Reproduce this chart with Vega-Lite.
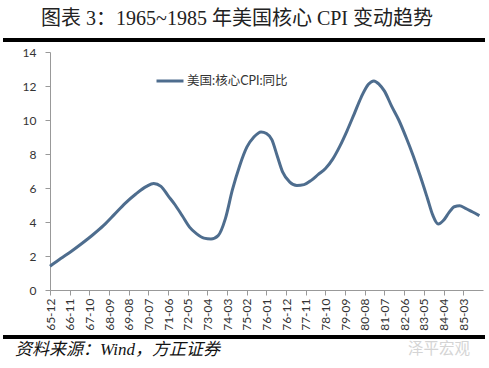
{
  "$schema": "https://vega.github.io/schema/vega-lite/v6.json",
  "padding": {"left": 3, "top": 9, "right": 2, "bottom": 0},
  "background": "#ffffff",
  "config": {"view": {"stroke": null}},
  "spacing": 4,
  "vconcat": [
    {
      "width": 482, "height": 4,
      "view": {"fill": "#000000", "stroke": null},
      "data": {"values": [{"label": "图表 3：1965~1985 年美国核心 CPI 变动趋势", "pos": 0.079}]},
      "mark": {"type": "text", "align": "left", "baseline": "middle", "dy": -21, "font": "Liberation Serif, Noto Sans CJK SC", "fontSize": 20, "color": "#222222"},
      "encoding": {
        "x": {"field": "pos", "type": "quantitative", "scale": {"domain": [0, 1]}, "axis": null},
        "text": {"field": "label"}
      }
    },
    {
      "width": 480, "height": 238,
      "data": {"values": [
        {"date": "1965-12-01", "v": 1.4},
        {"date": "1966-06-01", "v": 1.85},
        {"date": "1966-12-01", "v": 2.28},
        {"date": "1967-06-01", "v": 2.75},
        {"date": "1967-12-01", "v": 3.25},
        {"date": "1968-06-01", "v": 3.8},
        {"date": "1968-12-01", "v": 4.45},
        {"date": "1969-06-01", "v": 5.1},
        {"date": "1969-12-01", "v": 5.65},
        {"date": "1970-06-01", "v": 6.1},
        {"date": "1970-10-01", "v": 6.27},
        {"date": "1971-02-01", "v": 6.1},
        {"date": "1971-06-01", "v": 5.55},
        {"date": "1971-10-01", "v": 5.0},
        {"date": "1972-02-01", "v": 4.35},
        {"date": "1972-06-01", "v": 3.7},
        {"date": "1972-10-01", "v": 3.3},
        {"date": "1973-02-01", "v": 3.05},
        {"date": "1973-06-01", "v": 3.0},
        {"date": "1973-10-01", "v": 3.2},
        {"date": "1974-02-01", "v": 4.2},
        {"date": "1974-06-01", "v": 5.9},
        {"date": "1974-10-01", "v": 7.3},
        {"date": "1975-02-01", "v": 8.4},
        {"date": "1975-06-01", "v": 9.0},
        {"date": "1975-10-01", "v": 9.3},
        {"date": "1976-01-01", "v": 9.2},
        {"date": "1976-04-01", "v": 8.85},
        {"date": "1976-07-01", "v": 7.9},
        {"date": "1976-10-01", "v": 6.95},
        {"date": "1977-02-01", "v": 6.35},
        {"date": "1977-06-01", "v": 6.15},
        {"date": "1977-10-01", "v": 6.2},
        {"date": "1978-02-01", "v": 6.45},
        {"date": "1978-06-01", "v": 6.8},
        {"date": "1978-10-01", "v": 7.15},
        {"date": "1979-02-01", "v": 7.7},
        {"date": "1979-06-01", "v": 8.45},
        {"date": "1979-10-01", "v": 9.35},
        {"date": "1980-02-01", "v": 10.35},
        {"date": "1980-06-01", "v": 11.35},
        {"date": "1980-10-01", "v": 12.1},
        {"date": "1981-01-01", "v": 12.3},
        {"date": "1981-04-01", "v": 12.1},
        {"date": "1981-07-01", "v": 11.7},
        {"date": "1981-11-01", "v": 10.8},
        {"date": "1982-03-01", "v": 10.0},
        {"date": "1982-07-01", "v": 9.0},
        {"date": "1982-11-01", "v": 7.9},
        {"date": "1983-03-01", "v": 6.7},
        {"date": "1983-07-01", "v": 5.4},
        {"date": "1983-10-01", "v": 4.4},
        {"date": "1984-01-01", "v": 3.88},
        {"date": "1984-04-01", "v": 4.1},
        {"date": "1984-07-01", "v": 4.55},
        {"date": "1984-10-01", "v": 4.9},
        {"date": "1985-01-01", "v": 4.95},
        {"date": "1985-04-01", "v": 4.82},
        {"date": "1985-08-01", "v": 4.6},
        {"date": "1985-12-01", "v": 4.37}
      ]},
      "mark": {"type": "line", "strokeWidth": 3, "interpolate": "monotone"},
      "encoding": {
        "x": {
          "field": "date", "type": "temporal",
          "scale": {"type": "utc", "range": [47, 480], "domain": [{"year": 1965, "month": 12, "date": 1, "utc": true}, {"year": 1986, "month": 2, "date": 1, "utc": true}]},
          "axis": {
            "title": null, "format": "%y-%m", "labelAngle": -90, "labelOverlap": false, "labelFlush": false,
            "grid": false, "tickSize": 5, "labelPadding": 3, "domainColor": "#999999", "tickColor": "#999999",
            "labelFont": "Lato", "labelFontSize": 12, "labelColor": "#333333",
            "values": [
              {"year": 1965, "month": 12, "date": 1, "utc": true},
              {"year": 1966, "month": 11, "date": 1, "utc": true},
              {"year": 1967, "month": 10, "date": 1, "utc": true},
              {"year": 1968, "month": 9, "date": 1, "utc": true},
              {"year": 1969, "month": 8, "date": 1, "utc": true},
              {"year": 1970, "month": 7, "date": 1, "utc": true},
              {"year": 1971, "month": 6, "date": 1, "utc": true},
              {"year": 1972, "month": 5, "date": 1, "utc": true},
              {"year": 1973, "month": 4, "date": 1, "utc": true},
              {"year": 1974, "month": 3, "date": 1, "utc": true},
              {"year": 1975, "month": 2, "date": 1, "utc": true},
              {"year": 1976, "month": 1, "date": 1, "utc": true},
              {"year": 1976, "month": 12, "date": 1, "utc": true},
              {"year": 1977, "month": 11, "date": 1, "utc": true},
              {"year": 1978, "month": 10, "date": 1, "utc": true},
              {"year": 1979, "month": 9, "date": 1, "utc": true},
              {"year": 1980, "month": 8, "date": 1, "utc": true},
              {"year": 1981, "month": 7, "date": 1, "utc": true},
              {"year": 1982, "month": 6, "date": 1, "utc": true},
              {"year": 1983, "month": 5, "date": 1, "utc": true},
              {"year": 1984, "month": 4, "date": 1, "utc": true},
              {"year": 1985, "month": 3, "date": 1, "utc": true}
            ]
          }
        },
        "y": {
          "field": "v", "type": "quantitative",
          "scale": {"domain": [0, 14], "nice": false, "zero": true},
          "axis": {
            "title": null, "values": [0, 2, 4, 6, 8, 10, 12, 14], "grid": false, "tickSize": 5, "labelPadding": 9,
            "offset": -47, "domainColor": "#999999", "tickColor": "#999999",
            "labelFont": "Lato", "labelFontSize": 12, "labelColor": "#333333"
          }
        },
        "color": {
          "datum": "美国:核心CPI:同比",
          "scale": {"range": ["#4e6d8e"]},
          "legend": {
            "title": null, "orient": "none", "legendX": 152, "legendY": 28, "padding": 0,
            "symbolType": "stroke", "symbolSize": 729, "symbolStrokeWidth": 3,
            "labelFont": "Lato, Noto Sans CJK SC", "labelFontSize": 12.5, "labelColor": "#333333", "labelOffset": 2
          }
        }
      }
    },
    {
      "width": 482, "height": 4,
      "view": {"fill": "#000000", "stroke": null},
      "data": {"values": [
        {"label": "资料来源：Wind，方正证券", "pos": 0.025, "kind": "source"},
        {"label": "泽平宏观", "pos": 0.84, "kind": "mark"}
      ]},
      "layer": [
        {
          "transform": [{"filter": "datum.kind === 'source'"}],
          "mark": {"type": "text", "align": "left", "baseline": "middle", "dy": 13, "font": "Liberation Serif, Noto Sans CJK SC", "fontStyle": "italic", "fontSize": 17, "color": "#111111"},
          "encoding": {
            "x": {"field": "pos", "type": "quantitative", "scale": {"domain": [0, 1]}, "axis": null},
            "text": {"field": "label"}
          }
        },
        {
          "transform": [{"filter": "datum.kind === 'mark'"}],
          "mark": {"type": "text", "align": "left", "baseline": "middle", "dy": 12, "font": "Noto Sans CJK SC", "fontSize": 15.5, "color": "#d4d4d4"},
          "encoding": {
            "x": {"field": "pos", "type": "quantitative", "scale": {"domain": [0, 1]}, "axis": null},
            "text": {"field": "label"}
          }
        }
      ]
    }
  ]
}
